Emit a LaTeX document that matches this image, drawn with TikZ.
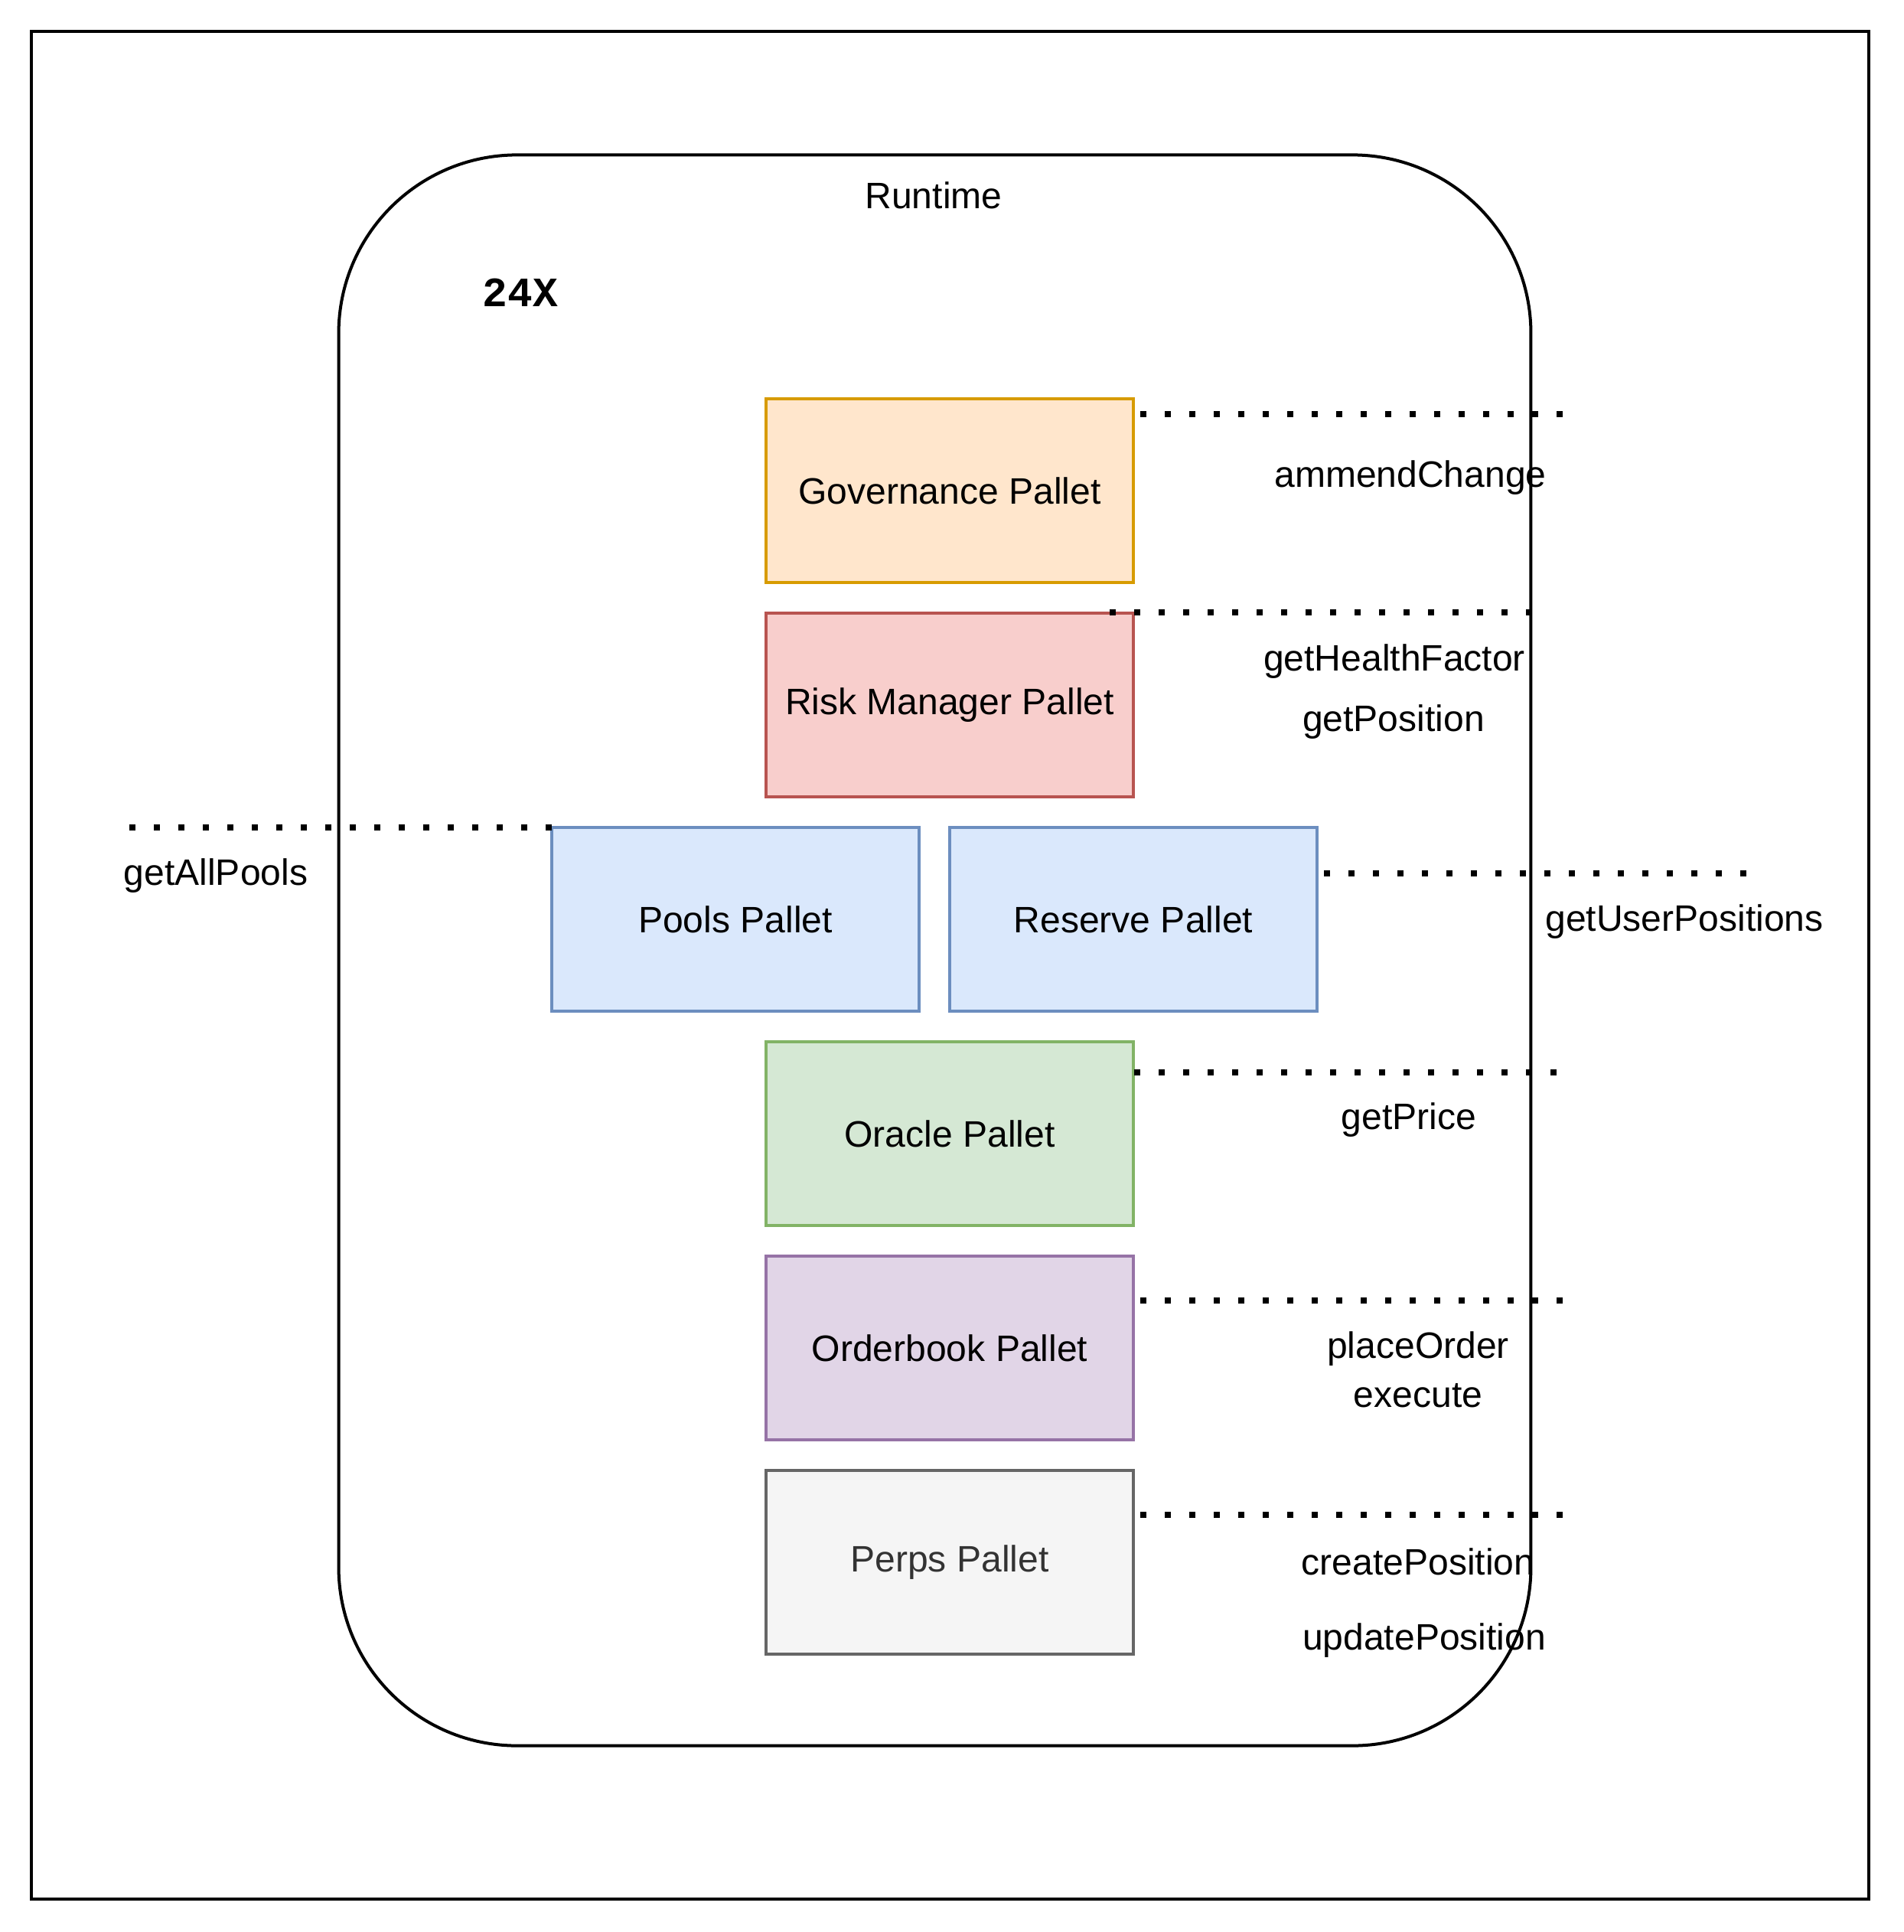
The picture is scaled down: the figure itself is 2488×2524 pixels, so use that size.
\documentclass[tikz,border=0pt]{standalone}
\usepackage{fontspec}
\setmainfont{Liberation Sans}
\newfontfamily\monobold{Liberation Mono}
\begin{document}
\begin{tikzpicture}[x=0.01cm,y=-0.01cm,
  every node/.style={font=\fontsize{13.66}{16}\selectfont},
  pallet/.style={draw, line width=0.04cm, minimum width=4.8cm, minimum height=2.4cm, inner sep=0pt},
  lbl/.style={inner sep=0pt, anchor=center},
  dotline/.style={line width=0.08cm, dash pattern=on 0.08cm off 0.24cm}
]
\useasboundingbox (0,0) rectangle (2488,2524);
\definecolor{govF}{HTML}{FFE6CC}\definecolor{govD}{HTML}{D79B00}
\definecolor{riskF}{HTML}{F8CECC}\definecolor{riskD}{HTML}{B85450}
\definecolor{blueF}{HTML}{DAE8FC}\definecolor{blueD}{HTML}{6C8EBF}
\definecolor{greenF}{HTML}{D5E8D4}\definecolor{greenD}{HTML}{82B366}
\definecolor{purpF}{HTML}{E1D5E7}\definecolor{purpD}{HTML}{9673A6}
\definecolor{greyF}{HTML}{F5F5F5}\definecolor{greyD}{HTML}{666666}
\definecolor{greyT}{HTML}{333333}

\node[draw, line width=0.04cm, minimum width=23.99cm, minimum height=24.38cm, inner sep=0pt] (outer) at (1241.5,1261) {};
\node[draw, line width=0.04cm, rounded corners=2.33cm, minimum width=15.57cm, minimum height=20.77cm, inner sep=0pt] (runtime) at (1221.5,1241.5) {};
\node[lbl] (rtlabel) at (1220,255) {Runtime};
\node[lbl, font=\monobold\bfseries\fontsize{15.5}{18}\selectfont] (x24) at (680,382) {24X};

\node[pallet, fill=govF, draw=govD] (gov) at (1241,641) {Governance Pallet};
\node[pallet, fill=riskF, draw=riskD] (risk) at (1241,921) {Risk Manager Pallet};
\node[pallet, fill=blueF, draw=blueD] (pools) at (961,1201) {Pools Pallet};
\node[pallet, fill=blueF, draw=blueD] (reserve) at (1481,1201) {Reserve Pallet};
\node[pallet, fill=greenF, draw=greenD] (oracle) at (1241,1481) {Oracle Pallet};
\node[pallet, fill=purpF, draw=purpD] (order) at (1241,1761) {Orderbook Pallet};
\node[pallet, fill=greyF, draw=greyD, text=greyT] (perps) at (1241,2041) {Perps Pallet};

\coordinate (g1) at (1490,541); \coordinate (g2) at (2048,541);
\coordinate (r1) at (1450,800); \coordinate (r2) at (2005,800);
\coordinate (p1) at (169,1081); \coordinate (p2) at (727,1081);
\coordinate (v1) at (1730,1141); \coordinate (v2) at (2288,1141);
\coordinate (o1) at (1482,1401); \coordinate (o2) at (2040,1401);
\coordinate (b1) at (1490,1699); \coordinate (b2) at (2048,1699);
\coordinate (e1) at (1490,1979); \coordinate (e2) at (2048,1979);
\draw[dotline] (g1) -- (g2);
\draw[dotline] (r1) -- (r2);
\draw[dotline] (p1) -- (p2);
\draw[dotline] (v1) -- (v2);
\draw[dotline] (o1) -- (o2);
\draw[dotline] (b1) -- (b2);
\draw[dotline] (e1) -- (e2);

\node[lbl] (l1) at (1843,624) {ammendChange};
\node[lbl] (l2) at (1822,864) {getHealthFactor};
\node[lbl] (l3) at (1821,943) {getPosition};
\node[lbl] (l4) at (282,1144) {getAllPools};
\node[lbl] (l5) at (2201,1204) {getUserPositions};
\node[lbl] (l6) at (1841,1463) {getPrice};
\node[lbl] (l7) at (1853,1762) {placeOrder};
\node[lbl] (l8) at (1853,1823) {execute};
\node[lbl] (l9) at (1853,2040) {createPosition};
\node[lbl] (l10) at (1861,2143) {updatePosition};
\end{tikzpicture}
\end{document}
